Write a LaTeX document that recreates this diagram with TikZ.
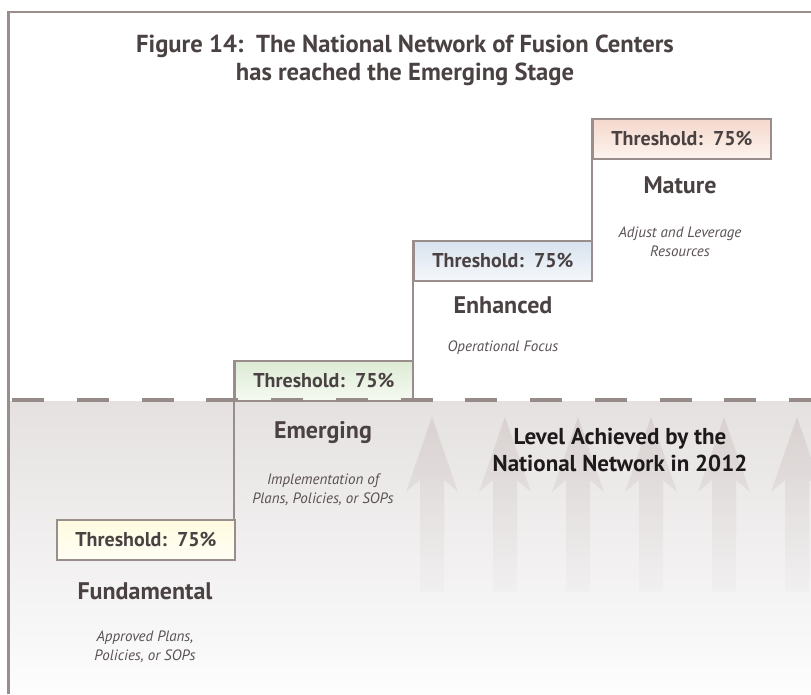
\documentclass[tikz,border=0pt]{standalone}
\usepackage{fontspec}
\setmainfont{PT Sans}
\definecolor{framec}{HTML}{998E8B}
\definecolor{dashc}{HTML}{968B88}
\definecolor{txtc}{HTML}{4A4142}
\definecolor{descc}{HTML}{5A5152}
\definecolor{darkc}{HTML}{1E1A1B}
\definecolor{bgtop}{HTML}{E5E1E1}
\definecolor{bgmid}{HTML}{EEECEC}
\definecolor{bgbot}{HTML}{FDFDFD}
\definecolor{arrtop}{HTML}{D8D1D0}
\definecolor{arrmid}{HTML}{DCD6D5}
\definecolor{arrbot}{HTML}{F1F0F0}
\definecolor{yelT}{HTML}{FFFBE0}\definecolor{yelB}{HTML}{FFFEF4}
\definecolor{grnT}{HTML}{DCEBD3}\definecolor{grnB}{HTML}{F6FAF3}
\definecolor{bluT}{HTML}{D8E2EE}\definecolor{bluB}{HTML}{F5F8FB}
\definecolor{pchT}{HTML}{F4D8CC}\definecolor{pchB}{HTML}{FDF4EF}
\tikzset{
  thbox/.style={draw=framec, line width=1.8pt, minimum width=178pt, minimum height=40pt,
    inner sep=0pt, text=txtc, font=\fontsize{20}{22}\selectfont\bfseries},
  stagename/.style={text=txtc, font=\fontsize{24}{26}\selectfont\bfseries, inner sep=0pt},
  stagedesc/.style={text=descc, font=\fontsize{15}{19}\selectfont\itshape, align=center, inner sep=0pt},
  stepline/.style={draw=framec, line width=1.8pt},
}
\begin{document}
\begin{tikzpicture}[x=1pt,y=-1pt]
\useasboundingbox (0,0) rectangle (811,694);
\clip (0,0) rectangle (811,694);
\fill[white] (0,0) rectangle (811,694);
% background gradient
\shade[top color=bgtop, middle color=bgmid, bottom color=bgbot] (10,401) rectangle (811,694);
% arrows
\foreach \cx in {432,505,578,651,724,797}{
  \shade[top color=arrtop, middle color=arrmid, bottom color=arrbot]
    (\cx,417) -- (\cx+26,492) -- (\cx+12,480) -- (\cx+12,592) -- (\cx-12,592)
    -- (\cx-12,480) -- (\cx-26,492) -- cycle;
}
% frame
\draw[framec, line width=2.5pt] (8.5,694) -- (8.5,12) -- (811,12);
% title
\node[text=txtc, font=\fontsize{24.6}{28}\selectfont\bfseries, align=center] (title) at (405,60)
  {Figure 14:\ \ The National Network of Fusion Centers\\has reached the Emerging Stage};
% boxes
\node[thbox, top color=yelT, bottom color=yelB, anchor=north west] (fund) at (56,519) {Threshold:\ \ 75\%};
\node[thbox, top color=grnT, bottom color=grnB, anchor=north west] (emer) at (234,360) {Threshold:\ \ 75\%};
\node[thbox, top color=bluT, bottom color=bluB, anchor=north west] (enh) at (413,240) {Threshold:\ \ 75\%};
\node[thbox, top color=pchT, bottom color=pchB, anchor=north west] (mat) at (592,118) {Threshold:\ \ 75\%};
% step lines
\draw[stepline] (emer.north west) -- (emer.north west |- fund.north);
\draw[stepline] (enh.north west) -- (enh.north west |- emer.south);
\draw[stepline] (mat.north west) -- (mat.north west |- enh.south);
% dashed level line
\draw[dashc, line width=4.5pt, dash pattern=on 32pt off 32.75pt] (12,400) -- (811,400);
% stage names
\node[stagename] (fundn) at (145,591) {Fundamental};
\node[stagename] (emern) at (323,433) {Emerging};
\node[stagename] (enhn) at (503,305) {Enhanced};
\node[stagename] (matn) at (680,185) {Mature};
% descriptions
\node[stagedesc] (fundd) at (145,647) {Approved Plans,\\Policies, or SOPs};
\node[stagedesc] (emerd) at (323,490) {Implementation of\\Plans, Policies, or SOPs};
\node[stagedesc] (enhd) at (503,348) {Operational Focus};
\node[stagedesc] (matd) at (680,242) {Adjust and Leverage\\Resources};
% level label
\node[text=darkc, font=\fontsize{23}{27}\selectfont\bfseries, align=center] (level) at (620,450)
  {Level Achieved by the\\National Network in 2012};
\end{tikzpicture}
\end{document}
